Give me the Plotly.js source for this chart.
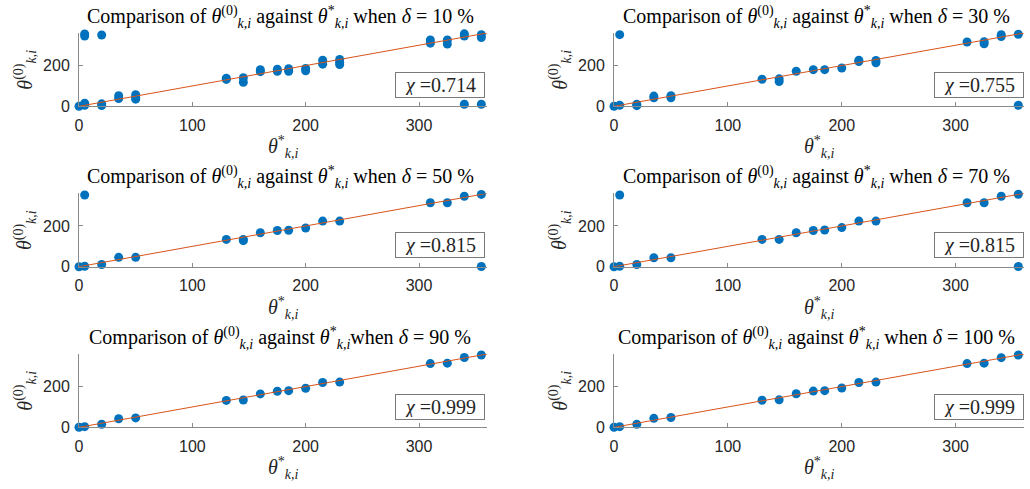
<!DOCTYPE html>
<html>
<head>
<meta charset="utf-8">
<script src="https://cdn.plot.ly/plotly-3.0.1.min.js"></script>
<style>html,body{margin:0;padding:0;background:#fff;}#chart{width:1030px;height:489px;}</style>
</head>
<body>
<div id="chart"></div>
<script>
// ---- data ----
const deltas = [10, 30, 50, 70, 90, 100];
const chiValues = ["0.714", "0.755", "0.815", "0.815", "0.999", "0.999"];

const thetaStar10 = [0, 5,5,5,5, 20,20,20, 35,35, 50,50,50, 130,130, 145,145, 160,160, 175,175, 185,185, 200,200, 215,215, 230,230,230, 310,310, 325,325, 340,340,340, 355,355,355];
const theta0_10   = [0, 345,355,5,15, 350,4,12, 38,52, 35,45,57, 132,138, 118,140, 170,180, 172,182, 172,185, 174,186, 207,226, 205,216,230, 310,326, 306,326, 345,356,10, 338,352,10];

const thetaStar30 = [0, 5,5, 20,20, 35,35, 50,50, 130, 145,145, 160, 175, 185, 200, 215,215, 230,230, 310, 325,325, 340,340, 355,355];
const theta0_30   = [0, 352,5, 3,10, 42,50, 42,52, 133, 122,135, 172, 180, 180, 188, 220,226, 214,225, 316, 307,317, 343,352, 354,5];

const thetaStar50 = [0, 5,5, 20, 35, 50, 130, 145,145, 160, 175, 185, 200, 215, 230, 310, 325, 340, 355,355];
const theta0_50   = [0, 352,2, 11, 46, 46, 134, 128,134, 167, 178, 179, 190, 224, 224, 314, 314, 346, 355, 1];

const thetaStar70 = [0, 5,5, 20, 35, 50, 130, 145, 160, 175, 185, 200, 215, 230, 310, 325, 340, 355,355];
const theta0_70   = [0, 352,2, 11, 44, 44, 134, 134, 167, 178, 180, 192, 224, 224, 314, 314, 346, 356, 1];

const thetaStar90 = [0, 5, 20, 35, 50, 130, 145, 160, 175, 185, 200, 215, 230, 310, 325, 340, 355];
const theta0_90   = [0, 3, 15, 42, 46, 132, 134, 164, 177, 180, 192, 220, 222, 313, 315, 343, 355];

const thetaStar100 = [0, 5, 20, 35, 50, 130, 145, 160, 175, 185, 200, 215, 230, 310, 325, 340, 355];
const theta0_100   = [0, 3, 15, 44, 48, 133, 135, 165, 178, 180, 193, 220, 222, 313, 315, 342, 355];

const refLineX = [0, 360];
const refLineY = [0, 360];

const xTickVals = [0, 100, 200, 300];
const yTickVals = [0, 200];

const seriesX = [thetaStar10, thetaStar30, thetaStar50, thetaStar70, thetaStar90, thetaStar100];
const seriesY = [theta0_10, theta0_30, theta0_50, theta0_70, theta0_90, theta0_100];

// ---- layout geometry (pixels) ----
const W = 1030, H = 489;
const colX = [[79, 487], [614, 1024]];
const rowY = [[33, 106.3], [193.4, 266.7], [354, 427.3]];
const px = v => v / W;
const py = v => 1 - v / H;

const serif = "Liberation Serif, Times New Roman, serif";
const sans = "Liberation Sans, Arial, Helvetica, sans-serif";
const axisGray = "#8a8a8a";
const textDark = "#262626";

const th0 = "<i>θ</i><sup>(0)</sup><sub><i>k,i</i></sub>";
const thS = "<i>θ</i><sup>*</sup><sub><i>k,i</i></sub>";

const traces = [];
const layout = {
  width: W, height: H,
  margin: {l: 0, r: 0, t: 0, b: 0},
  paper_bgcolor: "#ffffff",
  plot_bgcolor: "rgba(0,0,0,0)",
  showlegend: false,
  annotations: []
};

for (let i = 0; i < 6; i++) {
  const r = Math.floor(i / 2), c = i % 2;
  const sfx = i === 0 ? "" : String(i + 1);
  const xa = "x" + sfx, ya = "y" + sfx;

  traces.push({
    type: "scatter", mode: "markers",
    x: seriesX[i], y: seriesY[i],
    xaxis: xa, yaxis: ya,
    cliponaxis: false,
    marker: {color: "#0072BD", size: 9, line: {width: 0}},
    hoverinfo: "x+y"
  });
  traces.push({
    type: "scatter", mode: "lines",
    x: refLineX, y: refLineY,
    xaxis: xa, yaxis: ya,
    cliponaxis: false,
    line: {color: "#D95319", width: 1},
    hoverinfo: "skip"
  });

  const common = {
    showgrid: false, zeroline: false,
    showline: true, linecolor: axisGray, linewidth: 1,
    ticks: "inside", ticklen: 4, tickcolor: axisGray, tickwidth: 1,
    tickfont: {family: sans, size: 16, color: textDark},
    fixedrange: true
  };
  layout["xaxis" + sfx] = Object.assign({}, common, {
    domain: [px(colX[c][0]), px(colX[c][1])],
    range: [0, 360], tickmode: "array", tickvals: xTickVals,
    anchor: ya, ticklabelstandoff: 4
  });
  layout["yaxis" + sfx] = Object.assign({}, common, {
    domain: [py(rowY[r][1]), py(rowY[r][0])],
    range: [0, 360], tickmode: "array", tickvals: yTickVals,
    anchor: xa, ticklabelstandoff: 5
  });

  const cx = (colX[c][0] + colX[c][1]) / 2;
  const titleY = [17, 177, 338][r];
  const whenSep = deltas[i] === 90 ? "" : " ";
  layout.annotations.push({
    xref: "paper", yref: "paper",
    x: px(cx - 3), y: py(titleY),
    xanchor: "center", yanchor: "middle", showarrow: false,
    text: "Comparison of " + th0 + " against " + thS + whenSep + "when <i>δ</i> = " + deltas[i] + " %",
    font: {family: serif, size: 20, color: "#000"}
  });
  // x axis title
  layout.annotations.push({
    xref: "paper", yref: "paper",
    x: px(cx), y: py(rowY[r][1] + 41),
    xanchor: "center", yanchor: "middle", showarrow: false,
    text: thS,
    font: {family: serif, size: 20, color: textDark}
  });
  // y axis title
  layout.annotations.push({
    xref: "paper", yref: "paper",
    x: px(colX[c][0] - 54), y: py((rowY[r][0] + rowY[r][1]) / 2),
    xanchor: "center", yanchor: "middle", showarrow: false, textangle: -90,
    text: th0,
    font: {family: serif, size: 20, color: textDark}
  });
  // chi box
  const boxCx = c === 0 ? 440 : 979;
  const boxCy = [85, 245, 407][r];
  layout.annotations.push({
    xref: "paper", yref: "paper",
    x: px(boxCx), y: py(boxCy),
    xanchor: "center", yanchor: "middle", showarrow: false,
    text: "<i>χ</i> =" + chiValues[i],
    font: {family: serif, size: 20, color: textDark},
    bgcolor: "#ffffff", bordercolor: "#7a7a7a", borderwidth: 1, borderpad: 2,
    width: 84, height: 20
  });
}

Plotly.newPlot("chart", traces, layout, {staticPlot: true, displayModeBar: false});
</script>
</body>
</html>
